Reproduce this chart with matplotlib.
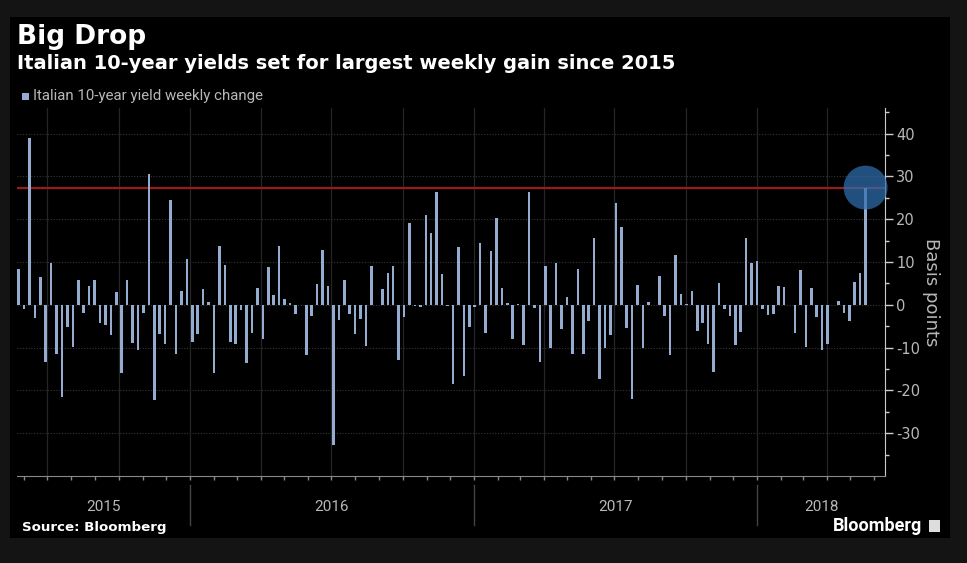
import numpy as np
import pandas as pd
import matplotlib
matplotlib.use("Agg")
import matplotlib.pyplot as plt
import matplotlib.dates as mdates
import matplotlib.transforms as mtransforms
from matplotlib.patches import Rectangle

plt.rcParams["axes.unicode_minus"] = False

#-------------------------------------------------------------------------------
# DATA (weekly change of Italian 10-year yield, basis points)
weekly_change = [
    8.4, -1, 39, -3, 6.4, -13.3, 9.7, -11.4, -21.5, -5.2,
    -9.8, 5.9, -2, 4.3, 5.9, -4.3, -4.6, -7.1, 3, -16,
    5.9, -9, -10.5, -2, 30.5, -22.2, -6.9, -9.2, 24.6, -11.4,
    3.3, 10.7, -8.7, -6.9, 3.7, 0.6, -15.9, 13.8, 9.3, -8.7,
    -9.2, -1.1, -13.6, -6.6, 4, -8.1, 8.9, 2.2, 13.8, 1.4,
    0.5, -2.1, 0, -11.8, -2.5, 4.9, 12.8, 4.3, -32.7, -3.6,
    5.8, -2.1, -6.7, -3.3, -9.6, 9, 0, 3.6, 7.5, 9.1,
    -12.9, -2.8, 19.2, -0.3, -0.5, 20.9, 16.7, 26.4, 7.2, -0.3,
    -18.5, 13.4, -16.6, -5.2, -0.4, 14.4, -6.5, 12.6, 20.2, 3.9,
    0.5, -8.1, 0.2, -9.5, 26.4, -0.8, -13.3, 9.1, -10, 9.7,
    -5.6, 1.9, -11.6, 8.4, -11.6, -3.8, 15.7, -17.4, -10.1, -7,
    23.9, 18.2, -5.3, -21.9, 4.7, -10.1, 0.6, 0, 6.8, -2.5,
    -11.8, 11.6, 2.6, 0.2, 3.3, -6.2, -4.3, -9.2, -15.7, 5.1,
    -0.9, -2.5, -9.5, -6.4, 15.7, 9.7, 10.3, -0.9, -2.3, -2.1,
    4.3, 4.1, 0, -6.5, 8.1, -9.8, 4, -2.9, -10.6, -9.2,
    0, 1, -1.9, -3.8, 5.3, 7.4, 27.4,
]
last_week = "2018-05-21"
weeks = pd.date_range(end=last_week, periods=len(weekly_change), freq="W-MON")
years = [2015, 2016, 2017, 2018]
y_ticks = [-30, -20, -10, 0, 10, 20, 30, 40]

#-------------------------------------------------------------------------------
# COLOURS
bar_color = "#93acd0"
text_gray = "#b8b8b8"
grid_color = "#363636"

#-------------------------------------------------------------------------------
# FIGURE
fig = plt.figure(figsize=(9.67, 5.63), dpi=100)
fig.patch.set_facecolor("#141414")
fig.add_artist(Rectangle((10 / 967, 1 - 538 / 563), 940 / 967, 521 / 563,
                         transform=fig.transFigure, facecolor="black",
                         edgecolor="none", zorder=0))

ax = fig.add_axes([17 / 967, 1 - 476 / 563, 868 / 967, 368 / 563])
ax.set_facecolor("black")

ax.bar(weeks, weekly_change, width=3.3, color=bar_color, zorder=3)
ax.axhline(weekly_change[-1], color="#9b1b1b", lw=1.6, zorder=2)
ax.scatter([weeks[-1]], [weekly_change[-1]], s=1000, color="#2f6fb0",
           alpha=0.72, edgecolors="none", zorder=4, clip_on=False)

ax.set_ylim(-40, 46)
ax.set_xlim(weeks[0] - pd.Timedelta(days=2), weeks[-1] + pd.Timedelta(days=25))

# y axis on the right
ax.yaxis.tick_right()
ax.yaxis.set_label_position("right")
ax.set_yticks(y_ticks)
ax.set_yticks(np.arange(-35, 46, 5), minor=True)
ax.tick_params(axis="y", which="major", direction="out", length=6, width=1,
               color="#cccccc", labelcolor=text_gray, labelsize=10.5, pad=2)
ax.tick_params(axis="y", which="minor", direction="out", length=3, width=1,
               color="#cccccc")
ax.set_ylabel("Basis points", color=text_gray, fontsize=13, rotation=-90,
              labelpad=14)

# x axis: monthly ticks, year labels underneath
ax.xaxis.set_major_locator(mdates.MonthLocator())
ax.xaxis.set_major_formatter(plt.NullFormatter())
ax.tick_params(axis="x", which="major", direction="out", length=3, width=1,
               color="#888888")

for side in ["top", "left"]:
    ax.spines[side].set_visible(False)
ax.spines["right"].set_color("#cccccc")
ax.spines["bottom"].set_color("#888888")

# grid
for yt in y_ticks:
    ax.axhline(yt, color=grid_color, lw=0.8, ls=(0, (1, 1.5)), zorder=1)
for q in pd.date_range("2015-04-01", "2018-04-01", freq="QS"):
    if q > weeks[0]:
        ax.axvline(q, color="#262626", lw=0.9, zorder=1)

trans = mtransforms.blended_transform_factory(ax.transData, ax.transAxes)
x0, x1 = ax.get_xlim()
for yr in years:
    start = max(mdates.date2num(pd.Timestamp(f"{yr}-01-01")), x0)
    end = min(mdates.date2num(pd.Timestamp(f"{yr + 1}-01-01")), x1)
    ax.text((start + end) / 2, -0.084, str(yr), transform=trans, ha="center",
            va="center", color=text_gray, fontsize=11, family="Roboto")
    if yr > years[0]:
        ax.plot([start, start], [-0.025, -0.133], transform=trans,
                color="#444444", lw=1, clip_on=False)

#-------------------------------------------------------------------------------
# TEXTS
fig.text(17 / 967, 1 - 37 / 563, "Big Drop", color="white", fontsize=19,
         fontweight="bold", va="center", ha="left")
fig.text(17 / 967, 1 - 64 / 563, "Italian 10-year yields set for largest weekly gain since 2015",
         color="white", fontsize=14, fontweight="bold", va="center", ha="left")
fig.add_artist(Rectangle((22 / 967, 1 - 100 / 563), 7 / 967, 7 / 563,
                         transform=fig.transFigure, facecolor=bar_color,
                         edgecolor="none"))
fig.text(33 / 967, 1 - 96 / 563, "Italian 10-year yield weekly change",
         color=text_gray, fontsize=10.8, family="Roboto", va="center", ha="left")
fig.text(22 / 967, 1 - 527 / 563, "Source: Bloomberg", color="white",
         fontsize=9.6, fontweight="bold", va="center", ha="left")
fig.text(922 / 967, 1 - 526 / 563, "Bloomberg", color="white", fontsize=13,
         fontweight="bold", family="Roboto", va="center", ha="right")
fig.add_artist(Rectangle((929 / 967, 1 - 532 / 563), 11 / 967, 12 / 563,
                         transform=fig.transFigure, facecolor="#dddddd",
                         edgecolor="none"))

plt.savefig("out.png", dpi=100, facecolor=fig.get_facecolor())
plt.close()
